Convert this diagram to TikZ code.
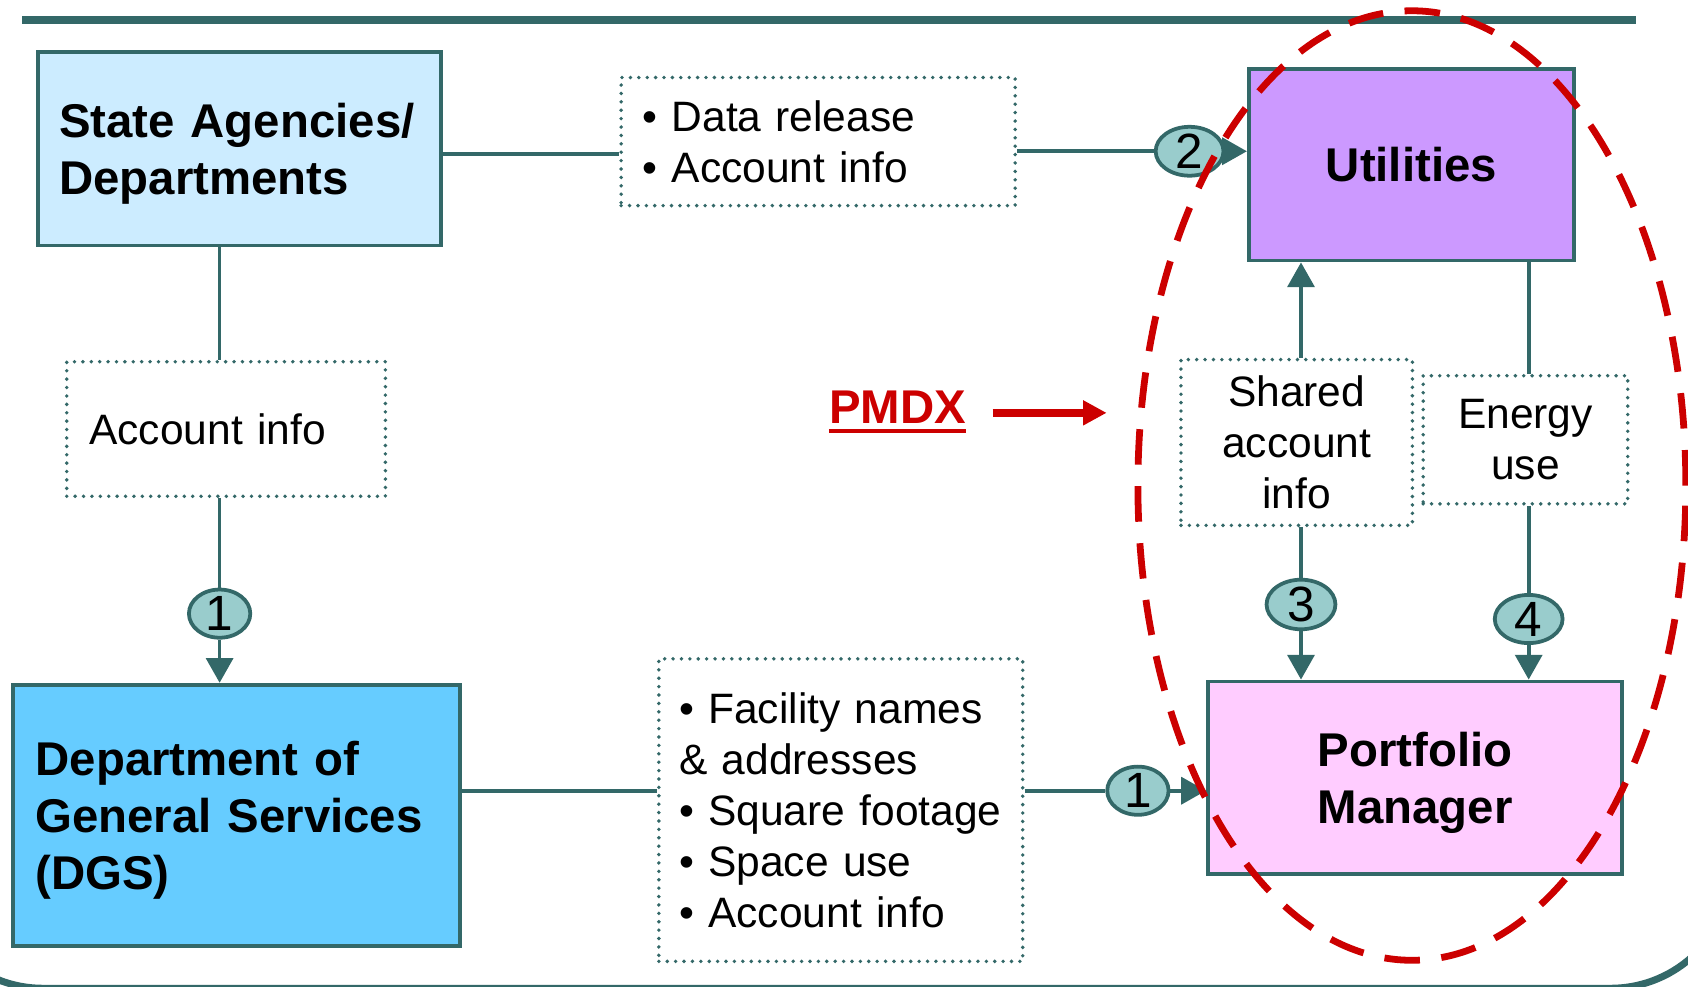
\documentclass[tikz,border=0pt]{standalone}
\usepackage{fontspec}
\setmainfont{Liberation Sans}
\usetikzlibrary{arrows.meta,shapes.geometric,calc}
\definecolor{tealc}{HTML}{336868}
\definecolor{lightblue}{HTML}{CCECFF}
\definecolor{dgsblue}{HTML}{66CCFF}
\definecolor{utilpurple}{HTML}{CC99FF}
\definecolor{pmpink}{HTML}{FFCCFF}
\definecolor{numfill}{HTML}{99CCCC}
\definecolor{pmdxred}{HTML}{CC0000}
\newcommand\dgBold{\fontsize{44}{53}\selectfont\bfseries}
\newcommand\dgReg{\fontsize{39.5}{47.5}\selectfont}
\newcommand\dgNum{\fontsize{46}{50}\selectfont}
\newcommand\nodp[1]{\raisebox{0pt}[\height][0pt]{#1}}
\tikzset{
  solidbox/.style={draw=tealc, line width=3.5pt, inner ysep=0pt, font=\dgBold},
  dotbox/.style={draw=tealc, line width=3.6pt, dash pattern=on 0pt off 7.8pt, line cap=round, inner ysep=0pt, font=\dgReg},
  num/.style={ellipse, draw=tealc, fill=numfill, line width=3.5pt, inner sep=0pt, font=\dgNum},
  conn/.style={draw=tealc, line width=3.5pt},
  arr/.style={conn, -{Triangle[length=23pt,width=25pt]}},
  reddash/.style={draw=pmdxred, line width=6.3pt, dash pattern=on 33pt off 20pt},
}
\begin{document}
\begin{tikzpicture}[x=1pt,y=-1pt]
\useasboundingbox (0,0) rectangle (1568,916);
% slide frame
\begin{scope}
\clip (0,0) rectangle (1568,916);
\draw[tealc, line width=6.5pt, rounded corners=113pt] (-73,-300) rectangle (1609,918);
\end{scope}
\fill[tealc] (20,15) rectangle (1520,22.3);

% boxes
\node[solidbox, fill=lightblue, minimum width=375pt, minimum height=180pt, inner xsep=20pt, text width=335pt, align=left] (sa) at (222.5,138) {State Agencies/\\\nodp{Departments}};
\node[solidbox, fill=dgsblue, minimum width=415pt, minimum height=243pt, inner xsep=21pt, text width=373pt, align=left] (dgs) at (219.5,757.5) {Department of\\General Services\\\nodp{(DGS)}};
\node[solidbox, fill=utilpurple, minimum width=302pt, minimum height=178pt, align=center] (util) at (1311,153) {Utilities};
\node[solidbox, fill=pmpink, minimum width=385pt, minimum height=179pt, align=center] (pm) at (1314.5,722.5) {Portfolio\\\nodp{Manager}};

\node[dotbox, minimum width=366pt, minimum height=119pt, inner xsep=20pt, text width=326pt, align=left] (data) at (760,131.5) {• Data release\\• Account info};
\node[dotbox, minimum width=338pt, minimum height=281pt, inner xsep=19pt, text width=300pt, align=left] (facil) at (781,752.5) {• Facility names\\\& addresses\\• Square footage\\• Space use\\• Account info};
\node[dotbox, minimum width=296pt, minimum height=125pt, inner xsep=21pt, text width=254pt, align=left] (acct) at (210,398.5) {Account info};
\node[dotbox, minimum width=215pt, minimum height=154pt, inner xsep=5pt, text width=205pt, align=center] (shared) at (1204.5,411) {Shared\\account\\info};
\node[dotbox, minimum width=190pt, minimum height=119pt, inner xsep=5pt, text width=180pt, align=center] (energy) at (1417,408.5) {Energy\\use};

% number ellipses
\node[num, minimum width=57pt, minimum height=42pt] (n1a) at (204,570) {1};
\node[num, minimum width=63pt, minimum height=42pt] (n2) at (1105,140.5) {2};
\node[num, minimum width=64pt, minimum height=40pt] (n3) at (1208.5,561.5) {3};
\node[num, minimum width=63pt, minimum height=41pt] (n4) at (1420,575) {4};
\node[num, minimum width=57pt, minimum height=42pt] (n1b) at (1057,734.5) {1};

% connectors
\draw[conn] ([yshift=-5pt]sa.east) -- ([yshift=-5pt]sa.east -| data.west);
\draw[conn] (data.east |- n2) -- (n2.west);
\draw[arr] (n2.east) -- (n2.east -| util.west);
\draw[conn] (n1a |- sa.south) -- (n1a |- acct.north);
\draw[conn] (n1a |- acct.south) -- (n1a.north);
\draw[arr] (n1a.south) -- (n1a |- dgs.north);
\draw[conn] (dgs.east |- n1b) -- (facil.west |- n1b);
\draw[conn] (facil.east |- n1b) -- (n1b.west);
\draw[arr] (n1b.east) -- (n1b.east -| pm.west);
\draw[arr] (n3 |- shared.north) -- (n3 |- util.south);
\draw[conn] (n3 |- shared.south) -- (n3.north);
\draw[arr] (n3.south) -- (n3 |- pm.north);
\draw[conn] (n4 |- util.south) -- (n4 |- energy.north);
\draw[conn] (n4 |- energy.south) -- (n4.north);
\draw[arr] (n4.south) -- (n4 |- pm.north);

% PMDX label and arrow
\node[anchor=base west, inner sep=0pt, text=pmdxred, font=\dgBold] (pmdx) at (770,393) {PMDX};
\draw[pmdxred, line width=3.7pt] ([yshift=-7.5pt]pmdx.base west) -- ([yshift=-7.5pt]pmdx.base east);
\coordinate (pmdxtail) at (922,383.5);
\coordinate (pmdxtip) at (1028,383.5);
\draw[pmdxred, line width=7.5pt, -{Triangle[length=22pt,width=22pt]}] (pmdxtail) -- (pmdxtip);

% red dashed ellipse
\draw[reddash] (1311.5,451) ellipse [x radius=254.5pt, y radius=441pt];
\end{tikzpicture}
\end{document}
